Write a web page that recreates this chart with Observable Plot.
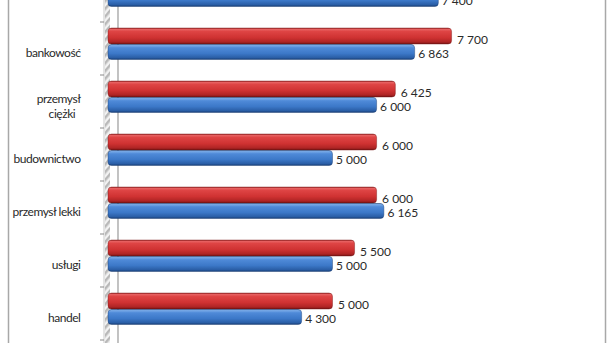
<!DOCTYPE html>
<html><head><meta charset="utf-8">
<script src="https://cdn.jsdelivr.net/npm/d3@7"></script>
<script src="https://cdn.jsdelivr.net/npm/@observablehq/plot@0.6"></script>
<style>
html,body{margin:0;padding:0;background:#fff;overflow:hidden}
g[aria-label="y-axis tick label"] text{letter-spacing:-0.45px}
</style></head><body><div id="chart"></div>
<script>
// Categories top to bottom (the first one is cut off at the top of the picture)
const categories = ["informatyka", "bankowość", "przemysł ciężki", "budownictwo", "przemysł lekki", "usługi", "handel"];
const redValues  = [8200, 7700, 6425, 6000, 6000, 5500, 5000];
const blueValues = [7400, 6863, 6000, 5000, 6165, 5000, 4300];
const visibleLabels = categories.slice(1);
const tickLabels = {"przemysł ciężki": "przemysł\nciężki\u00a0\u00a0"};

const fmt = d3.formatLocale({thousands: " ", grouping: [3], decimal: ","}).format(",");
const red  = categories.map((c, i) => ({category: c, value: redValues[i]}));
const blue = categories.map((c, i) => ({category: c, value: blueValues[i]}));

// decoration: gradients, 3D wall edge, category ticks at band edges
const decor = (index, scales, values, dims) => {
  const y = scales.y, x = scales.x;
  const bw = y(categories[1]) - y(categories[0]);
  const x0 = x(0);
  const g = d3.create("svg:g");
  const defs = g.append("defs");
  const mk = (id, stops) => {
    const lg = defs.append("linearGradient").attr("id", id)
      .attr("x1", 0).attr("y1", 0).attr("x2", 0).attr("y2", 1);
    stops.forEach(([o, c]) => lg.append("stop").attr("offset", o).attr("stop-color", c));
  };
  mk("gRed",  [[0, "#8e1c1c"], [0.07, "#e86464"], [0.22, "#de4444"], [0.6, "#cf3232"], [0.88, "#ae2424"], [1, "#6e1212"]]);
  mk("gBlue", [[0, "#1f4f90"], [0.07, "#78aae8"], [0.22, "#4f8ad8"], [0.6, "#3c78c8"], [0.88, "#2a5ea6"], [1, "#173d75"]]);
  const pat = defs.append("pattern").attr("id", "hatch").attr("patternUnits", "userSpaceOnUse")
    .attr("width", 5).attr("height", 5).attr("patternTransform", "rotate(40)");
  pat.append("rect").attr("width", 5).attr("height", 5).attr("fill", "#f2f2f2");
  pat.append("rect").attr("width", 2.5).attr("height", 5).attr("fill", "#b8b8b8");
  // wall edge
  g.append("rect").attr("x", x0 - 7).attr("y", 0).attr("width", 5).attr("height", dims.height).attr("fill", "url(#hatch)");
  g.append("line").attr("x1", x0 - 8).attr("x2", x0 - 8).attr("y1", 0).attr("y2", dims.height)
    .attr("stroke", "#c8c8c8").attr("stroke-width", 1);
  g.append("line").attr("x1", x0 + 6).attr("x2", x0 + 6).attr("y1", 0).attr("y2", dims.height)
    .attr("stroke", "#9a9a9a").attr("stroke-width", 1.2);
  // ticks at band edges
  for (let i = 0; i <= categories.length; ++i) {
    const yy = y(categories[0]) + i * bw;
    g.append("line").attr("x1", x0 - 12).attr("x2", x0 - 8).attr("y1", yy).attr("y2", yy)
      .attr("stroke", "#8a8a8a").attr("stroke-width", 1);
  }
  return g.node();
};

const chart = Plot.plot({
  width: 610,
  height: 343,
  marginLeft: 112,
  marginRight: 57,
  marginTop: 0,
  marginBottom: 0,
  style: {fontFamily: "Lato, sans-serif", background: "#fff"},
  x: {domain: [0, 10000], axis: null},
  y: {domain: categories, range: [-32.5, 342], padding: 0},
  marks: [
    Plot.frame({stroke: "#a8a8a8", strokeWidth: 1.5, insetLeft: -104, insetRight: -52, insetTop: -5, insetBottom: -5}),
    decor,
    Plot.barX(red, {x: "value", y: "category", fill: "url(#gRed)", insetTop: 6, insetBottom: 31, insetLeft: -4, rx: 3.5,
      stroke: "#7a1414", strokeWidth: 0.6, strokeOpacity: 0.7}),
    Plot.barX(blue, {x: "value", y: "category", fill: "url(#gBlue)", insetTop: 22.5, insetBottom: 15.5, insetLeft: -4, rx: 3.5,
      stroke: "#163a70", strokeWidth: 0.6, strokeOpacity: 0.7}),
    Plot.text(red, {x: "value", y: "category", text: d => fmt(d.value), dx: 5, dy: -9, textAnchor: "start",
      fill: "#2a2a2a", fontSize: 12}),
    Plot.text(blue, {x: "value", y: "category", text: d => fmt(d.value), dx: 3, dy: 5, textAnchor: "start",
      fill: "#2a2a2a", fontSize: 12}),
    Plot.axisY(visibleLabels, {tickSize: 0, tickPadding: 32, tickFormat: d => tickLabels[d] ?? d, dy: 3.5,
      fontSize: 12, lineHeight: 1.25, fill: "#2a2a2a", label: null})
  ]
});
document.getElementById("chart").appendChild(chart);
</script>
</body></html>
